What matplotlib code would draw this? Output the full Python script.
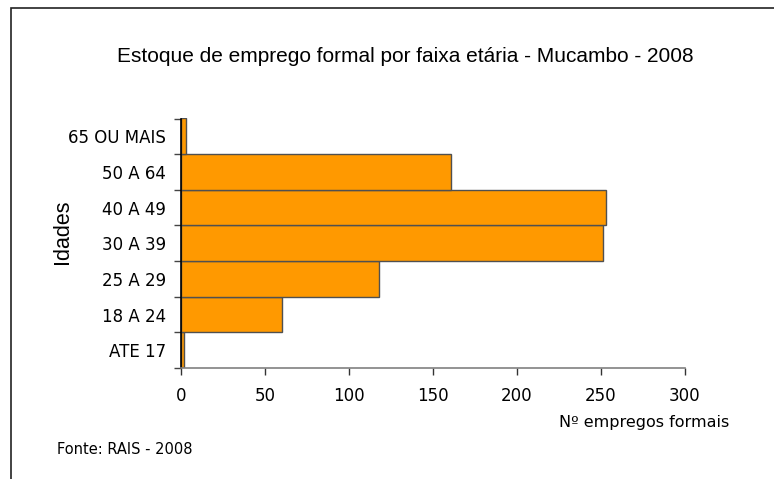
import matplotlib
matplotlib.use("Agg")
import matplotlib.pyplot as plt
from matplotlib.patches import Rectangle

# dados (de baixo para cima)
faixas = ['ATE 17', '18 A 24', '25 A 29', '30 A 39', '40 A 49', '50 A 64', '65 OU MAIS']
empregos = [2, 60, 118, 251, 253, 161, 3]
xticks = [0, 50, 100, 150, 200, 250, 300]

W, H = 774, 479
fig = plt.figure(figsize=(W / 100, H / 100), dpi=100)

# moldura externa (cortada a direita e embaixo)
fig.patches.append(Rectangle((11 / W, -0.1), 1.2, 1 - 7.5 / H + 0.1, transform=fig.transFigure,
                             fill=False, edgecolor='#222222', linewidth=1.2))

ax = fig.add_axes([181 / W, 1 - 368 / H, (685 - 181) / W, (368 - 118.5) / H])

pos = list(range(len(faixas)))
ax.barh(pos, empregos, height=1.0, color='#ff9900', edgecolor='#505050', linewidth=1.0)

ax.set_xlim(0, 300)
ax.set_ylim(-0.5, len(faixas) - 0.5)

ax.set_xticks(xticks)
ax.set_xticklabels([str(v) for v in xticks], fontsize=12, family='DejaVu Sans')
ax.tick_params(axis='x', direction='out', length=5, width=1, color='#333333', pad=8.5)

# ticks nas divisas das categorias, rotulos no centro
ax.set_yticks([p - 0.5 for p in pos] + [len(faixas) - 0.5])
ax.set_yticklabels([])
ax.set_yticks(pos, minor=True)
ax.set_yticklabels(faixas, minor=True, fontsize=12, family='DejaVu Sans')
ax.tick_params(axis='y', which='major', direction='out', length=5, width=1, color='#444444')
ax.tick_params(axis='y', which='minor', length=0, pad=11)

for s in ['top', 'right']:
    ax.spines[s].set_visible(False)
ax.spines['left'].set_color('black')
ax.spines['left'].set_linewidth(1.2)
ax.spines['bottom'].set_color('#808080')
ax.spines['bottom'].set_linewidth(1.2)

fig.text(405 / W, 1 - 57 / H, 'Estoque de emprego formal por faixa etária - Mucambo - 2008',
         ha='center', va='center', fontsize=15, family='Liberation Sans')
fig.text(63 / W, 1 - 232 / H, 'Idades', rotation=90, ha='center', va='center',
         fontsize=15.5, family='Liberation Sans')
fig.text(559 / W, 1 - 423 / H, 'Nº empregos formais', ha='left', va='center',
         fontsize=11.5, family='DejaVu Sans')
fig.text(57 / W, 1 - 449 / H, 'Fonte: RAIS - 2008', ha='left', va='center',
         fontsize=10.5, family='DejaVu Sans')

fig.savefig('out.png', dpi=100)
